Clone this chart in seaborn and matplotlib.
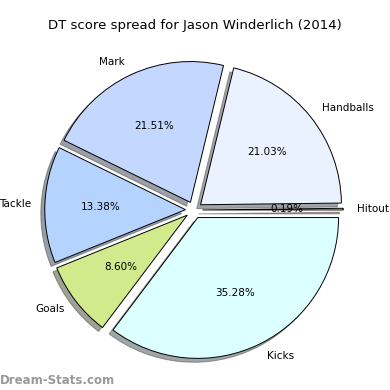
import seaborn as sns
import matplotlib
matplotlib.use('Agg')
import matplotlib.pyplot as plt

# values
labels = ['Hitout', 'Handballs', 'Mark', 'Tackle', 'Goals', 'Kicks']
shares = [0.19, 21.03, 21.51, 13.38, 8.60, 35.28]
colours = ['#ffe4c4', '#eaf1ff', '#c4d8ff', '#b4d4ff', '#d0ea8c', '#dcffff']

sns.set_style('white')
plt.rcParams['text.color'] = 'black'

fig = plt.figure(figsize=(3.9, 3.9), dpi=100)
ax = fig.add_axes([18 / 390, 4 / 390, 352 / 390, 352 / 390])

wedges, texts, autotexts = ax.pie(
    shares, labels=labels, colors=colours, autopct='%1.2f%%',
    startangle=0, explode=[0.06] * len(shares), shadow=True,
    wedgeprops={'edgecolor': 'black', 'linewidth': 0.7},
    textprops={'fontsize': 7.5, 'color': 'black'})
ax.set_xlim(-1.25, 1.25)
ax.set_ylim(-1.25, 1.25)
ax.set_aspect('equal')

fig.text(0.5, 0.935, 'DT score spread for Jason Winderlich (2014)',
         ha='center', va='center', fontsize=9.5, color='black')
fig.text(0.0, 0.025, 'Dream-Stats.com', ha='left', va='center',
         fontsize=8.5, color='#999999', fontweight='bold')

plt.savefig('out.png', dpi=100)
